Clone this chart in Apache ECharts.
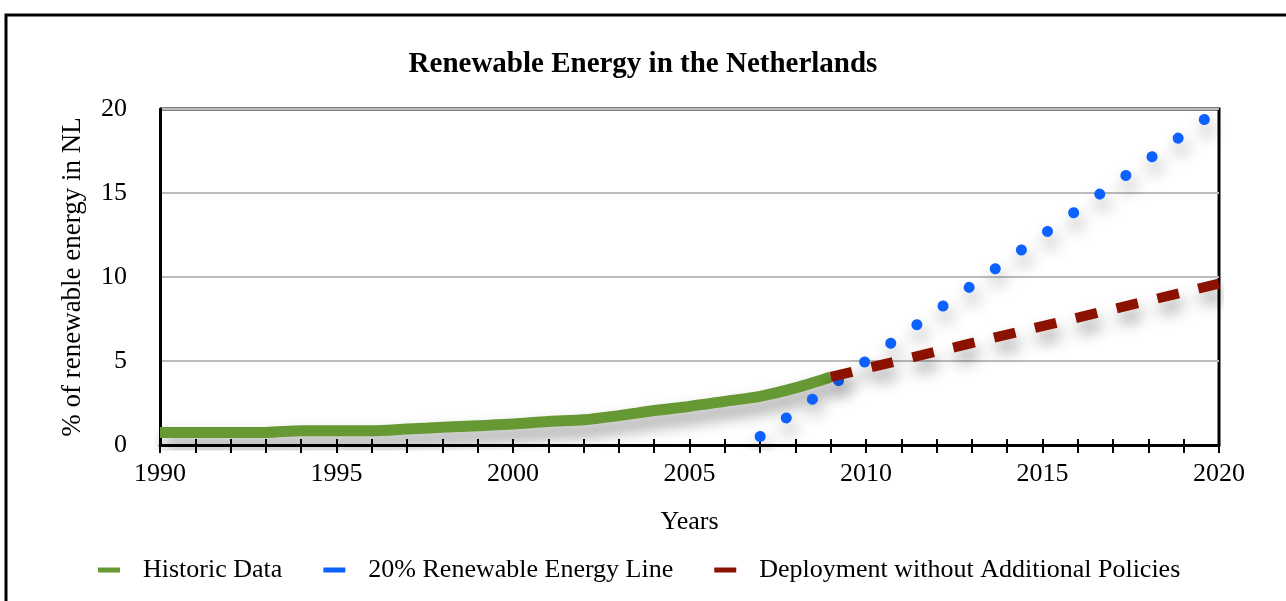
<!DOCTYPE html>
<html>
<head>
<meta charset="utf-8">
<script src="https://cdn.jsdelivr.net/npm/echarts@6/dist/echarts.min.js"></script>
<style>
    html, body { margin: 0; padding: 0; background: #fff; }
    #main { width: 1286px; height: 601px; }
</style>
</head>
<body>
<div id="main"></div>
<script>
// historic data, 1990 - 2009
const historicYears = [1990, 1991, 1992, 1993, 1994, 1995, 1996, 1997, 1998, 1999,
    2000, 2001, 2002, 2003, 2004, 2005, 2006, 2007, 2008, 2009]
const historicValues = [0.75, 0.75, 0.75, 0.75, 0.85, 0.85, 0.85, 0.95, 1.05, 1.15,
    1.25, 1.4, 1.5, 1.75, 2.05, 2.3, 2.6, 2.9, 3.4, 4.05]

// 20% target line
const targetYears = [2007, 2020]
const targetValues = [0.5, 20]

// deployment without extra policies
const deployYears = [2009, 2020]
const deployValues = [4.05, 9.6]

const yTicks = [0, 5, 10, 15, 20]
const xLabelYears = [1990, 1995, 2000, 2005, 2010, 2015, 2020]

const pairs = (xs, ys) => xs.map((x, i) => [x, ys[i]])

const serif = '"Liberation Serif", "DejaVu Serif", serif'

const shadow = {
    shadowColor: 'rgba(0,0,0,0.42)',
    shadowBlur: 16,
    shadowOffsetX: 3,
    shadowOffsetY: 10
}

var myChart = echarts.init(document.getElementById('main'))

var xBase = {
    type: 'value',
    min: 1990,
    max: 2020,
    interval: 1,
    splitLine: { show: false }
}

var option = {
    animation: false,
    textStyle: { fontFamily: serif, color: '#000' },
    title: {
        text: 'Renewable Energy in the Netherlands',
        left: 'center',
        top: 45,
        textStyle: { fontFamily: serif, fontWeight: 'bold', fontSize: 29, color: '#000' }
    },
    legend: {
        left: 93,
        top: 552,
        itemWidth: 22,
        itemHeight: 5,
        itemGap: 41,
        icon: 'rect',
        textStyle: { fontFamily: serif, fontSize: 26, color: '#000', padding: [0, 0, 0, 18] },
        data: ['Historic Data', '20% Renewable Energy Line', 'Deployment without Additional Policies']
    },
    grid: { left: 160, right: 67, top: 109, bottom: 156 },
    xAxis: [
        Object.assign({}, xBase, {
            name: 'Years',
            nameLocation: 'middle',
            nameGap: 64,
            nameTextStyle: { fontFamily: serif, fontSize: 26, color: '#000' },
            axisLine: { lineStyle: { color: '#000', width: 3 } },
            axisTick: { show: true, inside: false, length: 8, lineStyle: { color: '#000', width: 2 } },
            axisLabel: {
                margin: 16,
                fontFamily: serif,
                fontSize: 26,
                color: '#000',
                formatter: v => xLabelYears.includes(v) ? String(v) : ''
            }
        }),
        Object.assign({}, xBase, {
            // second copy only for the upper half of the ticks
            position: 'bottom',
            axisLine: { show: false },
            axisTick: { show: true, inside: true, length: 6, lineStyle: { color: '#000', width: 2 } },
            axisLabel: { show: false }
        })
    ],
    yAxis: {
        type: 'value',
        min: 0,
        max: 20,
        interval: 5,
        name: '% of renewable energy in NL',
        nameLocation: 'middle',
        nameGap: 74,
        nameTextStyle: { fontFamily: serif, fontSize: 27, color: '#000' },
        axisLine: { show: true, lineStyle: { color: '#000', width: 3 } },
        axisTick: { show: false },
        axisLabel: {
            margin: 33,
            fontFamily: serif,
            fontSize: 26,
            color: '#000',
            formatter: v => yTicks.includes(v) ? String(v) : ''
        },
        splitLine: { show: true, lineStyle: { color: '#bdbdbd', width: 2 } }
    },
    graphic: [
        {
            type: 'rect',
            shape: { x: 6, y: 15, width: 1400, height: 800 },
            style: { fill: null, stroke: '#000', lineWidth: 3 },
            silent: true
        },
        {
            // top and right frame of the plot
            type: 'polyline',
            shape: { points: [[160, 109], [1219, 109], [1219, 445]] },
            style: { fill: null, stroke: '#000', lineWidth: 3 },
            silent: true
        }
    ],
    series: [
        {
            name: 'Historic Data',
            type: 'line',
            data: pairs(historicYears, historicValues),
            smooth: 0.3,
            showSymbol: false,
            color: '#669933',
            lineStyle: Object.assign({ width: 11, color: '#669933' }, shadow),
            z: 3
        },
        {
            name: '20% Renewable Energy Line',
            type: 'line',
            data: pairs(targetYears, targetValues),
            showSymbol: false,
            color: '#0d62ff',
            lineStyle: Object.assign({
                width: 11, color: '#0d62ff', type: [0.1, 32], cap: 'round', dashOffset: 0
            }, shadow),
            z: 4
        },
        {
            name: 'Deployment without Additional Policies',
            type: 'line',
            data: pairs(deployYears, deployValues),
            showSymbol: false,
            color: '#8b1200',
            lineStyle: Object.assign({
                width: 10, color: '#8b1200', type: [22, 20], cap: 'butt'
            }, shadow),
            z: 5
        }
    ]
}

myChart.setOption(option)
</script>
</body>
</html>
